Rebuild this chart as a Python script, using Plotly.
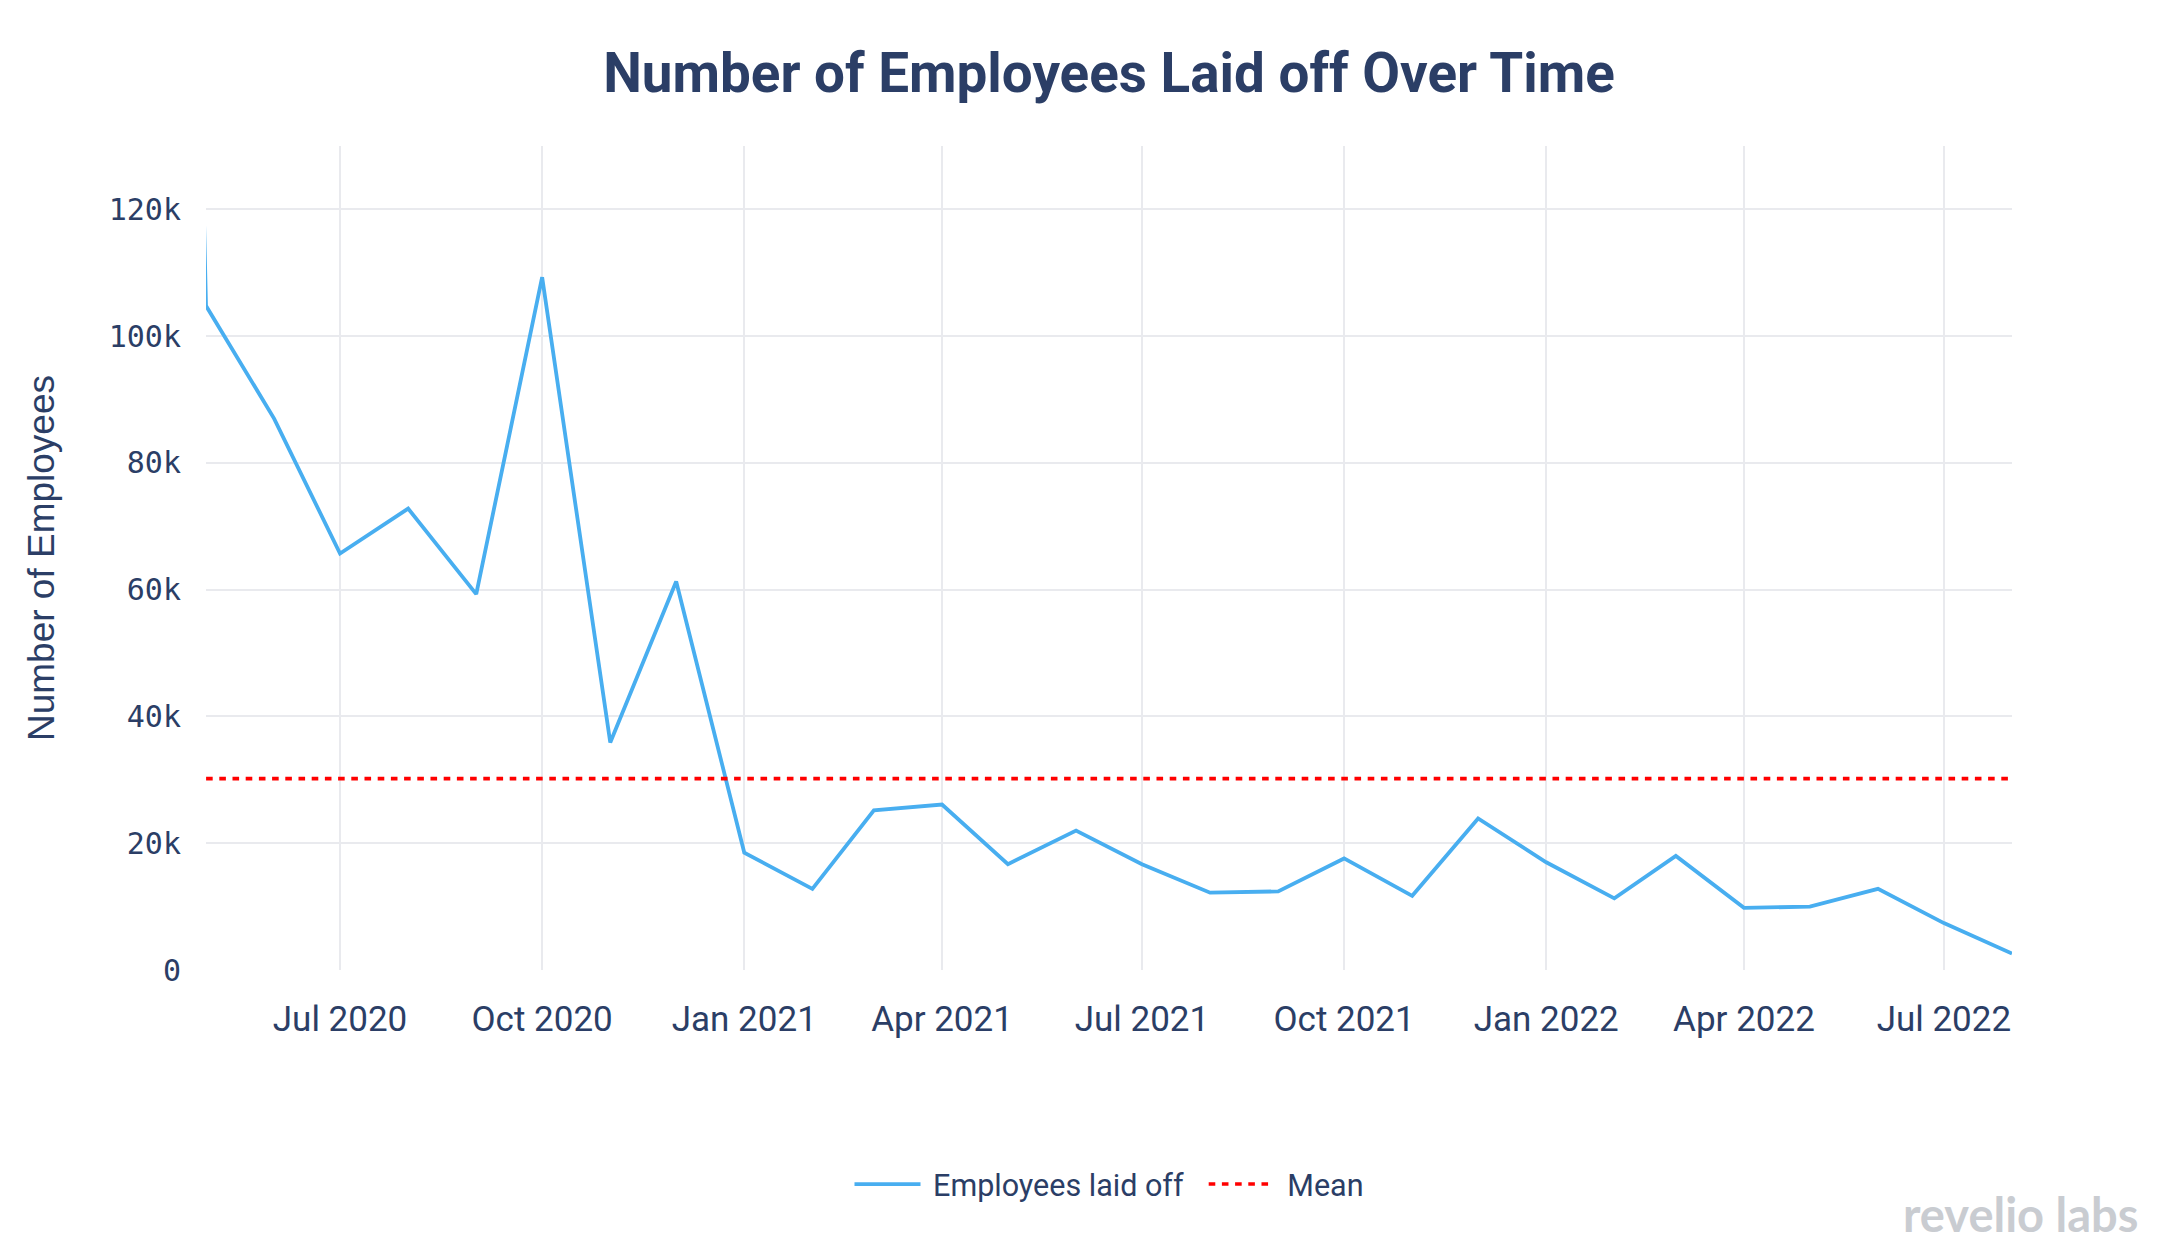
import plotly.graph_objects as go

# ---- data ----
months = [
    "2020-04-01", "2020-05-01", "2020-06-01", "2020-07-01", "2020-08-01", "2020-09-01",
    "2020-10-01", "2020-11-01", "2020-12-01", "2021-01-01", "2021-02-01", "2021-03-01",
    "2021-04-01", "2021-05-01", "2021-06-01", "2021-07-01", "2021-08-01", "2021-09-01",
    "2021-10-01", "2021-11-01", "2021-12-01", "2022-01-01", "2022-02-01", "2022-03-01",
    "2022-04-01", "2022-05-01", "2022-06-01", "2022-07-01", "2022-08-01",
]
employees_laid_off = [
    545000, 104800, 87000, 65700, 72800, 59300,
    109300, 35900, 61300, 18500, 12800, 25200,
    26100, 16700, 22000, 16700, 12200, 12400,
    17600, 11700, 23900, 17000, 11300, 18000,
    9800, 10000, 12800, 7400, 2600,
]
mean_value = 30200
mean_span = ["2020-04-01", "2022-08-01"]

x_range = ["2020-05-01", "2022-08-01"]
y_range = [0, 130000]

NAVY = "#2b3e66"
BLUE = "#48aef0"
GRID = "#e9eaee"
NB = "\u00a0"

W, H = 2146, 1240

fig = go.Figure()
fig.add_trace(go.Scatter(
    x=months, y=employees_laid_off, mode="lines",
    name=NB + "Employees laid off" + NB + NB,
    line=dict(color=BLUE, width=3.8),
))
fig.add_trace(go.Scatter(
    x=mean_span, y=[mean_value] * len(mean_span), mode="lines",
    name=NB + "Mean",
    line=dict(color="#ff0000", width=3.6, dash="6.6px,6.6px"),
))

fig.update_layout(
    width=W, height=H,
    margin=dict(l=198, r=142, t=138, b=278),
    paper_bgcolor="white", plot_bgcolor="white",
    font=dict(family="Roboto", color=NAVY, size=30),
    title=dict(
        text="<b>Number of Employees Laid off Over Time</b>",
        font=dict(family="Roboto", size=54.8, color=NAVY),
        x=0.5, xref="paper", xanchor="center",
        y=1 - 65 / H, yref="container", yanchor="middle",
    ),
    showlegend=True,
    legend=dict(
        orientation="h", x=0.5, xanchor="center", y=-0.26, yanchor="middle",
        font=dict(family="Roboto", size=30.5, color=NAVY),
        bgcolor="rgba(0,0,0,0)", itemwidth=66,
    ),
    xaxis=dict(
        range=x_range, type="date",
        dtick="M3", tick0="2020-01-01", tickformat="%b %Y",
        showgrid=True, gridcolor=GRID, gridwidth=2,
        zeroline=False, showline=False, ticks="",
        ticklabelstandoff=25,
        tickfont=dict(family="Roboto", size=35, color=NAVY),
    ),
    yaxis=dict(
        range=y_range, dtick=20000, tickformat="~s",
        showgrid=True, gridcolor=GRID, gridwidth=2,
        zeroline=False, showline=False, ticks="",
        ticklabelstandoff=24,
        tickfont=dict(family="DejaVu Sans Mono", size=30, color=NAVY),
        title=dict(
            text="Number of Employees",
            font=dict(family="Liberation Sans", size=37, color=NAVY),
            standoff=42,
        ),
    ),
)

fig.add_annotation(
    text="<b>revelio labs</b>", xref="paper", yref="paper",
    x=1 + 128 / 1806, y=-(1236 - 962) / 824, xanchor="right", yanchor="bottom",
    showarrow=False, font=dict(family="Lato", size=47, color="#c9ccd1"),
)

fig.write_html("out.html")
